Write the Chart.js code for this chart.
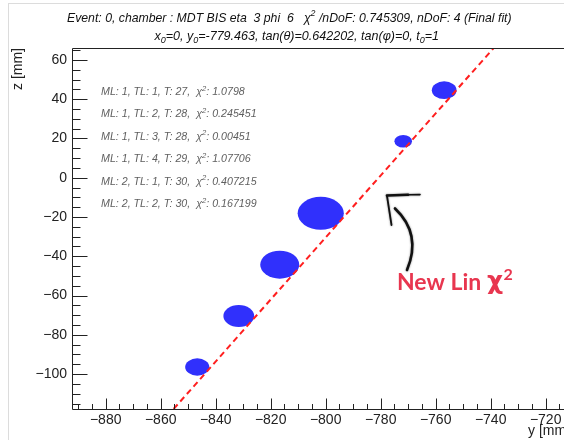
<!DOCTYPE html>
<html><head><meta charset="utf-8">
<script src="https://cdn.jsdelivr.net/npm/chart.js@4"></script>
<style>html,body{margin:0;padding:0;overflow:hidden;background:#fff}
#wrap{width:600px;height:440px;position:relative}</style>
</head><body><div id="wrap"><canvas id="c" width="600" height="440"></canvas></div>
<script>
// ---- data ----
const hitY   = [-846.7, -831.6, -816.7, -801.8, -771.8, -756.9];   // tube centre, y [mm]
const hitZ   = [-96.4, -70.4, -44.3, -18.1, 18.6, 44.6];           // tube centre, z [mm]
const hitR   = [4.4, 5.6, 7.1, 8.4, 3.2, 4.5];                      // drift radius [mm]
const hitML  = [1, 1, 1, 1, 2, 2];
const hitTL  = [1, 2, 3, 4, 1, 2];
const hitT   = [27, 28, 28, 29, 30, 30];
const hitChi2 = ['1.0798', '0.245451', '0.00451', '1.07706', '0.407215', '0.167199'];
const fitY   = [-855.3, -738.9];
const fitZ   = [-117.8, 66.1];
const xRange = [-892.25, -711.15];
const zRange = [-117.8, 66.1];
const titleParts = ['Event: 0, chamber : MDT BIS eta  3 phi  6   ', ' /nDoF: 0.745309, nDoF: 4 (Final fit)'];
const fitParams = {x0:'0', y0:'-779.463', tanTheta:'0.642202', tanPhi:'0', t0:'1'};

const fmt = v => (v < 0 ? '\u2212' + Math.abs(v) : String(v));
const SANS = '"Liberation Sans", Arial, Helvetica, sans-serif';

function rich(ctx, segs, x, y, size, style, align, color) {
  const base = `${style} ${size}px ${SANS}`;
  const small = `${style} ${Math.round(size*0.72*10)/10}px ${SANS}`;
  let w = 0;
  for (const s of segs) { ctx.font = (s.sub||s.sup) ? small : base; w += ctx.measureText(s.t).width; }
  let cx = align === 'center' ? x - w/2 : x;
  ctx.fillStyle = color; ctx.textAlign = 'left'; ctx.textBaseline = 'alphabetic';
  for (const s of segs) {
    ctx.font = (s.sub||s.sup) ? small : base;
    const dy = s.sub ? size*0.28 : (s.sup ? -size*0.42 : 0);
    ctx.fillText(s.t, cx, y + dy);
    cx += ctx.measureText(s.t).width;
  }
  return w;
}
function measureRich(ctx, segs, size, style) {
  let w = 0;
  for (const s of segs) { ctx.font = `${style} ${(s.sub||s.sup)?size*0.72:size}px ${SANS}`; w += ctx.measureText(s.t).width; }
  return w;
}

const hitsPlugin = {
  id: 'hits',
  beforeDatasetsDraw(chart) {
    const {ctx, chartArea: a, scales: {x, y}} = chart;
    ctx.save();
    ctx.beginPath(); ctx.rect(a.left, a.top, a.right - a.left, a.bottom - a.top); ctx.clip();
    ctx.fillStyle = 'rgb(48,48,252)';
    hitY.forEach((hy, i) => {
      const px = x.getPixelForValue(hy), py = y.getPixelForValue(hitZ[i]);
      const rx = Math.abs(x.getPixelForValue(hy + hitR[i]) - px);
      const ry = Math.abs(y.getPixelForValue(hitZ[i] + hitR[i]) - py);
      ctx.beginPath(); ctx.ellipse(px, py, rx, ry, 0, 0, Math.PI*2); ctx.fill();
    });
    ctx.restore();
  }
};

const decorPlugin = {
  id: 'decor',
  afterDraw(chart) {
    const {ctx, chartArea: a, scales: {x, y}} = chart;
    ctx.save();
    // pad border
    ctx.strokeStyle = '#dcdcdc'; ctx.lineWidth = 1;
    ctx.beginPath(); ctx.moveTo(8.5, 3); ctx.lineTo(8.5, 440); ctx.moveTo(8, 3.5); ctx.lineTo(600, 3.5); ctx.stroke();
    // frame
    ctx.strokeStyle = '#222'; ctx.lineWidth = 1;
    const L = Math.round(a.left) + 0.5, T = Math.round(a.top) + 0.5, B = Math.round(a.bottom) + 0.5, R = Math.round(a.right) + 0.5;
    ctx.beginPath(); ctx.moveTo(R, T); ctx.lineTo(L, T); ctx.lineTo(L, B); ctx.lineTo(R, B); ctx.stroke();
    // inward ticks
    ctx.beginPath();
    for (let v = Math.ceil(x.min/5)*5; v <= x.max; v += 5) {
      const px = Math.round(x.getPixelForValue(v)) + 0.5;
      const len = Math.abs(v % 20) < 1e-6 ? 11 : 5.5;
      ctx.moveTo(px, B); ctx.lineTo(px, B - len);
    }
    for (let v = Math.ceil(y.min/5)*5; v <= y.max; v += 5) {
      const py = Math.round(y.getPixelForValue(v)) + 0.5;
      const len = Math.abs(v % 20) < 1e-6 ? 15 : 8;
      ctx.moveTo(L, py); ctx.lineTo(L + len, py);
    }
    ctx.stroke();

    // titles
    const t1 = [{t: titleParts[0]}, {t: '\u03C7'}, {t: '2', sup: true}, {t: titleParts[1]}];
    let s1 = 13 * 445 / measureRich(ctx, t1, 13, 'italic');
    rich(ctx, t1, 67, 21.5, s1, 'italic', 'left', '#111');
    const p = fitParams;
    const t2 = [{t:'x'},{t:'0',sub:true},{t:'='+p.x0+', y'},{t:'0',sub:true},{t:'='+p.y0+', tan(\u03B8)='+p.tanTheta+', tan(\u03C6)='+p.tanPhi+', t'},{t:'0',sub:true},{t:'='+p.t0}];
    let s2 = 13 * 285 / measureRich(ctx, t2, 13, 'italic');
    rich(ctx, t2, 296.7, 39.5, s2, 'italic', 'center', '#111');

    // hit annotations
    const rows = hitML.map((m, i) => [{t:`ML: ${m}, TL: ${hitTL[i]}, T: ${hitT[i]},  `},{t:'\u03C7'},{t:'2',sup:true},{t:': ' + hitChi2[i]}]);
    const sa = 10 * 144 / measureRich(ctx, rows[0], 10, 'italic');
    rows.forEach((r, i) => rich(ctx, r, 101, 95 + i * 22.4, sa, 'italic', 'left', '#606060'));

    // hand-drawn arrow
    ctx.strokeStyle = '#111'; ctx.lineCap = 'round'; ctx.lineJoin = 'round';
    ctx.shadowColor = 'rgba(0,0,0,0.5)'; ctx.shadowBlur = 2;
    ctx.lineWidth = 2.6;
    ctx.beginPath(); ctx.moveTo(387, 195.5); ctx.lineTo(408, 194.8); ctx.stroke();
    ctx.lineWidth = 1.6;
    ctx.beginPath(); ctx.moveTo(408, 194.8); ctx.lineTo(420, 194.6); ctx.stroke();
    ctx.lineWidth = 1.8;
    ctx.beginPath(); ctx.moveTo(387, 196); ctx.lineTo(391.5, 225); ctx.stroke();
    ctx.lineWidth = 2.6;
    ctx.beginPath(); ctx.moveTo(395, 208.5); ctx.quadraticCurveTo(422, 234, 407, 270); ctx.stroke();
    ctx.shadowBlur = 0;

    // New Lin chi2
    ctx.fillStyle = '#e8364f'; ctx.textBaseline = 'alphabetic'; ctx.textAlign = 'left';
    ctx.font = 'bold 23px Lato, "Open Sans", sans-serif';
    const nl = 'New Lin ';
    ctx.fillText(nl, 397, 290);
    let cx = 397 + ctx.measureText(nl).width;
    ctx.font = 'bold 25px "DejaVu Sans", sans-serif';
    ctx.fillText('\u03C7', cx, 289);
    cx += ctx.measureText('\u03C7').width + 0.5;
    ctx.font = 'bold 16px Lato, "Open Sans", sans-serif';
    ctx.fillText('2', cx, 280);
    ctx.restore();
  }
};

new Chart(document.getElementById('c'), {
  type: 'scatter',
  data: {
    datasets: [
      { label: 'hits', data: hitY.map((v, i) => ({x: v, y: hitZ[i]})), pointRadius: 0, showLine: false },
      { label: 'fit', data: fitY.map((v, i) => ({x: v, y: fitZ[i]})), showLine: true, borderColor: '#ff1f1f',
        borderWidth: 2, borderDash: [6, 4], pointRadius: 0, fill: false }
    ]
  },
  options: {
    responsive: false, animation: false, devicePixelRatio: 1,
    layout: { padding: { top: 48, right: 30, left: 0, bottom: 0 } },
    plugins: { legend: { display: false }, tooltip: { enabled: false } },
    scales: {
      x: {
        type: 'linear', min: xRange[0], max: xRange[1],
        afterFit(s) { s.height = 31; },
        grid: { display: false, drawTicks: false }, border: { display: false },
        ticks: { stepSize: 20, includeBounds: false, padding: 3, color: '#222', maxRotation: 0, autoSkip: false,
                 font: { family: SANS, size: 14 }, callback: v => fmt(v) },
        title: { display: true, text: 'y [mm]', align: 'end', color: '#222', padding: { top: 0, bottom: 0 },
                 font: { family: SANS, size: 14 } }
      },
      y: {
        type: 'linear', min: zRange[0], max: zRange[1],
        afterFit(s) { s.width = 72; },
        grid: { display: false, drawTicks: false }, border: { display: false },
        ticks: { stepSize: 20, includeBounds: false, padding: 5, color: '#222', autoSkip: false,
                 font: { family: SANS, size: 14 }, callback: v => fmt(v) },
        title: { display: true, text: 'z [mm]', align: 'end', color: '#222', padding: { top: 10, bottom: 0 },
                 font: { family: SANS, size: 14 } }
      }
    }
  },
  plugins: [hitsPlugin, decorPlugin]
});
</script></body></html>
